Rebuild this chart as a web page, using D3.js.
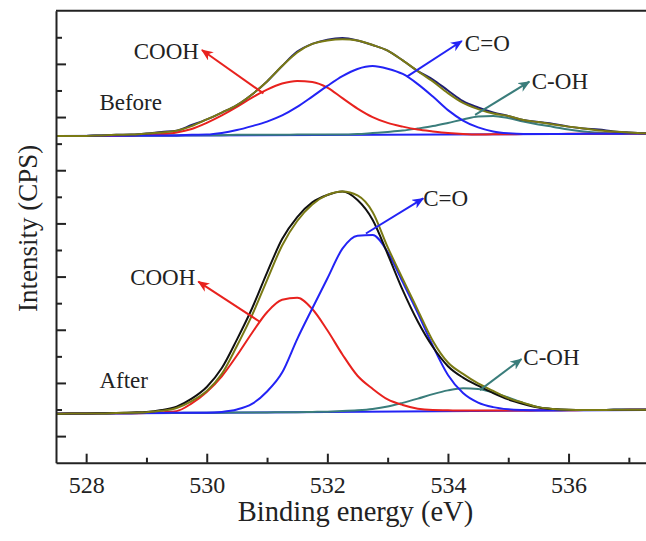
<!DOCTYPE html>
<html>
<head>
<meta charset="utf-8">
<script src="https://cdn.jsdelivr.net/npm/d3@7"></script>
<style>
  body { margin: 0; background: #fff; }
  text { font-family: "Liberation Serif", "Times New Roman", serif; fill: #222; }
</style>
</head>
<body>
<div id="chart"></div>
<script>
// binding energy grid (eV) shared by all curves
var energy = [527.5, 527.75, 528, 528.25, 528.5, 528.75, 529, 529.25, 529.5, 529.75,
  530, 530.25, 530.5, 530.75, 531, 531.25, 531.5, 531.75, 532, 532.25,
  532.5, 532.75, 533, 533.25, 533.5, 533.75, 534, 534.25, 534.5, 534.75,
  535, 535.25, 535.5, 535.75, 536, 536.25, 536.5, 536.75, 537, 537.25, 537.5];

// "Before" panel
var beforeRaw = [12.29, 12.29, 12.29, 12.31, 12.33, 12.34, 12.38, 12.44, 12.49, 12.70,
  12.91, 13.17, 13.45, 13.85, 14.34, 14.92, 15.46, 15.75, 15.91, 15.97,
  15.88, 15.71, 15.50, 15.13, 14.73, 14.41, 14.00, 13.60, 13.36, 13.17,
  13.04, 12.89, 12.81, 12.74, 12.64, 12.57, 12.53, 12.46, 12.42, 12.39, 12.38];
var beforeFit = [12.29, 12.29, 12.29, 12.31, 12.33, 12.34, 12.38, 12.42, 12.49, 12.66,
  12.91, 13.17, 13.45, 13.85, 14.34, 14.92, 15.43, 15.75, 15.88, 15.93,
  15.88, 15.71, 15.50, 15.13, 14.73, 14.34, 13.90, 13.53, 13.30, 13.13,
  13.04, 12.89, 12.81, 12.72, 12.64, 12.57, 12.49, 12.46, 12.42, 12.39, 12.38];
var beforeCOOH = [12.29, 12.29, 12.29, 12.29, 12.29, 12.31, 12.33, 12.36, 12.42, 12.55,
  12.78, 13.06, 13.38, 13.73, 14.03, 14.26, 14.36, 14.32, 14.11, 13.71,
  13.32, 13.00, 12.78, 12.64, 12.53, 12.46, 12.40, 12.36, 12.34, 12.35,
  12.35, 12.36, 12.36, 12.36, 12.37, 12.37, 12.37, 12.38, 12.38, 12.38, 12.38];
var beforeCO = [12.29, 12.29, 12.29, 12.30, 12.30, 12.30, 12.31, 12.31, 12.31, 12.33,
  12.34, 12.40, 12.51, 12.66, 12.83, 13.06, 13.38, 13.77, 14.17, 14.54,
  14.81, 14.92, 14.82, 14.62, 14.24, 13.77, 13.26, 12.87, 12.61, 12.46,
  12.39, 12.36, 12.36, 12.36, 12.36, 12.37, 12.37, 12.37, 12.38, 12.38, 12.38];
var beforeCOH = [12.29, 12.29, 12.29, 12.30, 12.30, 12.30, 12.31, 12.31, 12.31, 12.32,
  12.32, 12.32, 12.33, 12.33, 12.33, 12.33, 12.34, 12.34, 12.34, 12.34,
  12.36, 12.40, 12.44, 12.49, 12.57, 12.66, 12.78, 12.91, 13.02, 13.04,
  12.96, 12.83, 12.72, 12.63, 12.53, 12.46, 12.41, 12.39, 12.38, 12.38, 12.38];

// "After" panel
var afterRaw = [1.84, 1.85, 1.85, 1.86, 1.87, 1.89, 1.91, 1.98, 2.11, 2.41,
  2.85, 3.56, 4.63, 5.80, 7.15, 8.41, 9.24, 9.79, 10.07, 10.20,
  9.88, 9.14, 7.85, 6.49, 5.31, 4.35, 3.63, 3.20, 2.90, 2.62,
  2.38, 2.21, 2.08, 2.02, 1.99, 1.98, 1.98, 1.99, 1.99, 1.99, 1.99];
var afterFit = [1.84, 1.85, 1.85, 1.85, 1.87, 1.88, 1.90, 1.95, 2.06, 2.32,
  2.70, 3.34, 4.39, 5.54, 6.87, 8.17, 9.09, 9.71, 10.07, 10.20,
  10.05, 9.43, 8.11, 6.91, 5.74, 4.58, 3.77, 3.34, 2.98, 2.70,
  2.43, 2.25, 2.09, 2.02, 1.99, 1.98, 1.98, 1.99, 1.99, 1.99, 1.99];
var afterCOOH = [1.84, 1.85, 1.85, 1.86, 1.86, 1.86, 1.87, 1.90, 1.94, 2.23,
  2.66, 3.25, 4.03, 4.88, 5.66, 6.13, 6.20, 5.78, 4.98, 4.07,
  3.27, 2.78, 2.38, 2.17, 2.03, 1.98, 1.97, 1.96, 1.96, 1.96,
  1.96, 1.96, 1.97, 1.97, 1.97, 1.98, 1.98, 1.98, 1.99, 1.99, 1.99];
var afterCO = [1.84, 1.85, 1.85, 1.86, 1.86, 1.86, 1.87, 1.87, 1.88, 1.88,
  1.88, 1.91, 2.00, 2.21, 2.68, 3.39, 4.65, 5.80, 6.93, 8.05,
  8.54, 8.56, 7.92, 6.79, 5.63, 4.39, 3.30, 2.62, 2.26, 2.09,
  2.01, 1.98, 1.97, 1.97, 1.98, 1.98, 1.98, 1.99, 1.99, 1.99, 1.99];
var afterCOH = [1.84, 1.85, 1.85, 1.85, 1.86, 1.86, 1.87, 1.87, 1.87, 1.88,
  1.88, 1.88, 1.89, 1.89, 1.89, 1.90, 1.90, 1.91, 1.92, 1.94,
  1.97, 2.02, 2.11, 2.25, 2.41, 2.58, 2.72, 2.80, 2.77, 2.64,
  2.45, 2.25, 2.09, 2.01, 1.98, 1.98, 1.98, 1.99, 1.99, 1.99, 1.99];

// straight background lines
var baseEnergy = [527.5, 537.5];
var baseBefore = [12.29, 12.38];
var baseAfter = [1.84, 1.99];

// ticks
var xMajorTicks = [528, 530, 532, 534, 536];
var xMinorTicks = [529, 531, 533, 535, 537];
var yMajorTicks = [1, 3, 5, 7, 9, 11, 13, 15];
var yMinorTicks = [2, 4, 6, 8, 10, 12, 14, 16];

// annotations
var labelText = ["Before", "After", "COOH", "C=O", "C-OH", "COOH", "C=O", "C-OH"];
var labelX = [528.22, 528.22, 528.79, 534.28, 535.39, 528.73, 533.59, 535.25];
var labelY = [13.26, 2.80, 15.17, 15.48, 14.04, 6.68, 9.65, 3.67];
var arrowFrom = [[530.94, 13.89], [533.32, 14.52], [534.45, 13.08], [530.88, 5.30], [532.64, 8.62], [534.53, 2.73]];
var arrowTo = [[529.92, 15.52], [534.23, 15.86], [535.35, 14.33], [529.86, 6.81], [533.59, 9.94], [535.22, 3.90]];
var arrowColor = ["#e8221e", "#2323f5", "#3a7d7b", "#e8221e", "#2323f5", "#3a7d7b"];

var serif = "'Liberation Serif', 'Times New Roman', serif";

var margin = { top: 10.7, right: 0, bottom: 78.3, left: 56 },
    W = 646, H = 541,
    width = 603,
    height = H - margin.top - margin.bottom;

var svg = d3.select("#chart")
    .append("svg")
    .attr("width", W)
    .attr("height", H)
    .append("g")
    .attr("transform", "translate(" + margin.left + "," + margin.top + ")");

var x = d3.scaleLinear().domain([527.5, 537.5]).range([0, width]);
var y = d3.scaleLinear().domain([0, 17]).range([height, 0]);

svg.append("clipPath").attr("id", "clip")
    .append("rect").attr("width", width).attr("height", height);

// arrow heads
var defs = svg.append("defs");
arrowColor.forEach(function (c, i) {
    defs.append("marker")
        .attr("id", "head" + i)
        .attr("viewBox", "0 0 12 10")
        .attr("refX", 11).attr("refY", 5)
        .attr("markerWidth", 12).attr("markerHeight", 10)
        .attr("markerUnits", "userSpaceOnUse")
        .attr("orient", "auto")
        .append("path")
        .attr("d", "M0,0 L12,5 L0,10 L3.5,5 Z")
        .attr("fill", c);
});

var line = d3.line()
    .x(function (d) { return x(d[0]); })
    .y(function (d) { return y(d[1]); })
    .curve(d3.curveMonotoneX);

function pairs(values) { return energy.map(function (e, i) { return [e, values[i]]; }); }

var plot = svg.append("g").attr("clip-path", "url(#clip)");

var series = [
    [baseEnergy.map(function (e, i) { return [e, baseBefore[i]]; }), "#2323f5"],
    [baseEnergy.map(function (e, i) { return [e, baseAfter[i]]; }), "#2323f5"],
    [pairs(beforeCOH), "#3a7d7b"],
    [pairs(afterCOH), "#3a7d7b"],
    [pairs(beforeCOOH), "#e8221e"],
    [pairs(afterCOOH), "#e8221e"],
    [pairs(beforeCO), "#2323f5"],
    [pairs(afterCO), "#2323f5"],
    [pairs(beforeRaw), "#1f1f72"],
    [pairs(afterRaw), "#111111"],
    [pairs(beforeFit), "#7a7a14"],
    [pairs(afterFit), "#7a7a14"]
];

series.forEach(function (s) {
    plot.append("path")
        .datum(s[0])
        .attr("d", line)
        .attr("fill", "none")
        .attr("stroke", s[1])
        .attr("stroke-width", 2);
});

// arrows
arrowFrom.forEach(function (p, i) {
    svg.append("line")
        .attr("x1", x(p[0])).attr("y1", y(p[1]))
        .attr("x2", x(arrowTo[i][0])).attr("y2", y(arrowTo[i][1]))
        .attr("stroke", arrowColor[i])
        .attr("stroke-width", 2)
        .attr("marker-end", "url(#head" + i + ")");
});

// labels
labelText.forEach(function (t, i) {
    svg.append("text")
        .attr("x", x(labelX[i]))
        .attr("y", y(labelY[i]))
        .style("font-family", serif)
        .style("font-size", "23px")
        .text(t);
});

// X axis with inward ticks
var xAxis = svg.append("g")
    .attr("transform", "translate(0," + height + ")")
    .call(d3.axisBottom(x).tickValues(xMajorTicks).tickSizeInner(-9).tickSizeOuter(0)
        .tickPadding(13).tickFormat(d3.format("d")));
xAxis.selectAll(".tick text")
    .style("font-family", serif)
    .style("font-size", "24px")
    .attr("fill", "#222");
xAxis.selectAll(".tick line").attr("stroke", "#222").attr("stroke-width", 2);
xAxis.select(".domain").attr("stroke", "#222").attr("stroke-width", 2);
svg.append("g")
    .attr("transform", "translate(0," + height + ")")
    .call(d3.axisBottom(x).tickValues(xMinorTicks).tickSizeInner(-5).tickSizeOuter(0).tickFormat(""))
    .call(function (g) { g.select(".domain").remove(); })
    .selectAll(".tick line").attr("stroke", "#222").attr("stroke-width", 2);

// Y axis with inward ticks, no labels
var yAxis = svg.append("g")
    .call(d3.axisLeft(y).tickValues(yMajorTicks).tickSizeInner(-10).tickSizeOuter(0).tickFormat(""));
yAxis.selectAll(".tick line").attr("stroke", "#222").attr("stroke-width", 2);
yAxis.select(".domain").attr("stroke", "#222").attr("stroke-width", 2);
svg.append("g")
    .call(d3.axisLeft(y).tickValues(yMinorTicks).tickSizeInner(-6).tickSizeOuter(0).tickFormat(""))
    .call(function (g) { g.select(".domain").remove(); })
    .selectAll(".tick line").attr("stroke", "#222").attr("stroke-width", 2);

// top and right frame
svg.append("line")
    .attr("x1", 0).attr("x2", width).attr("y1", 0).attr("y2", 0)
    .attr("stroke", "#222").attr("stroke-width", 2);
svg.append("line")
    .attr("x1", width).attr("x2", width).attr("y1", 0).attr("y2", height)
    .attr("stroke", "#222").attr("stroke-width", 2);

// axis titles
svg.append("text")
    .attr("x", 355.5 - margin.left)
    .attr("y", height + 58)
    .style("text-anchor", "middle")
    .style("font-family", serif)
    .style("font-size", "28.5px")
    .text("Binding energy (eV)");

svg.append("text")
    .attr("transform", "translate(" + (37 - margin.left) + "," + (228.3 - margin.top) + ") rotate(-90)")
    .style("text-anchor", "middle")
    .style("font-family", serif)
    .style("font-size", "27px")
    .text("Intensity (CPS)");
</script>
</body>
</html>
